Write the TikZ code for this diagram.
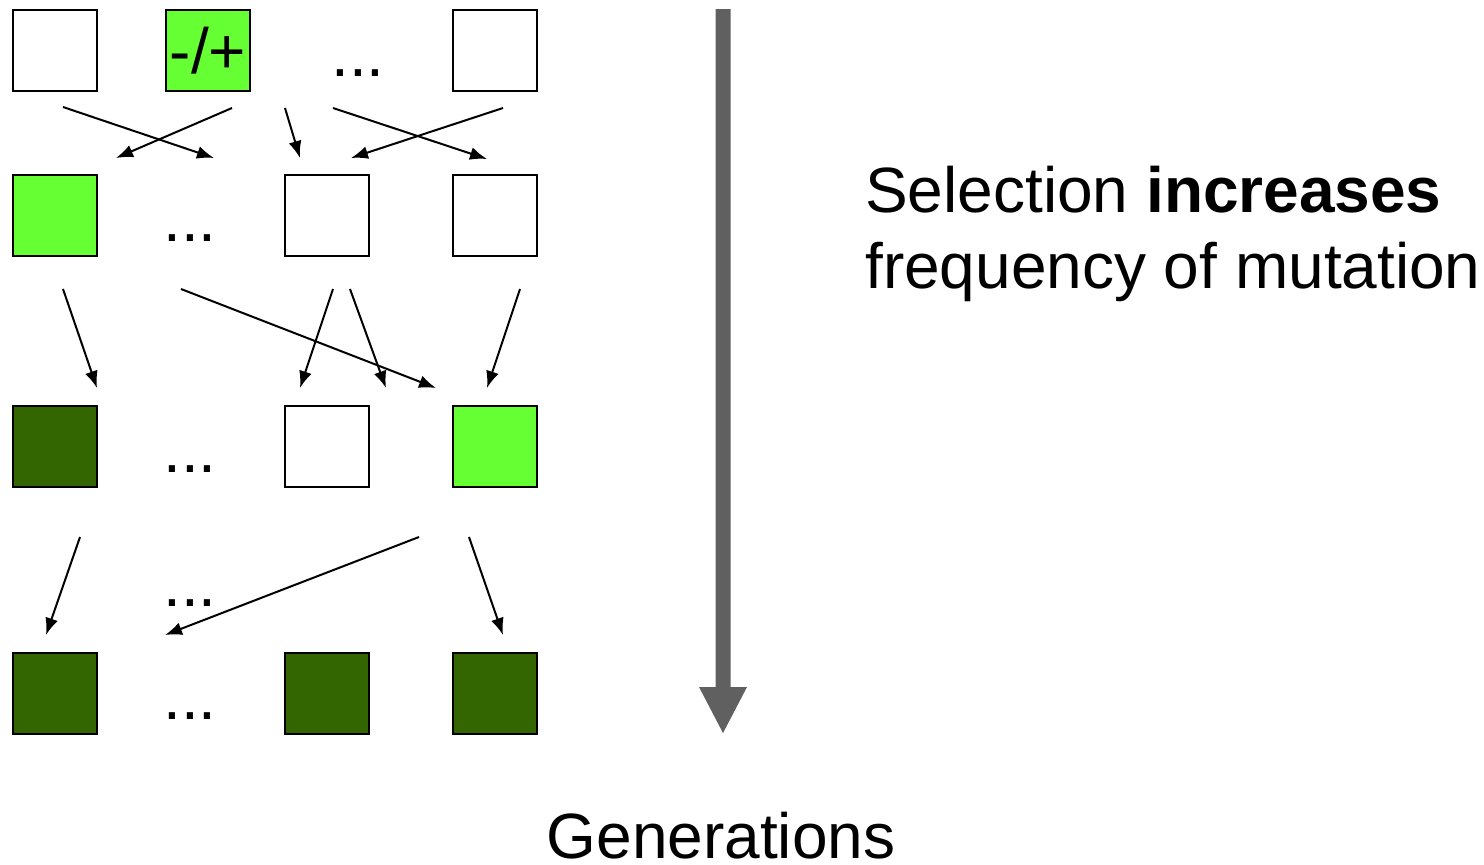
\documentclass[tikz,border=0pt]{standalone}
\usepackage{fontspec}
\setmainfont{Liberation Sans}
\usetikzlibrary{arrows.meta}
\definecolor{lgreen}{HTML}{66FF33}
\definecolor{dgreen}{HTML}{336600}
\definecolor{arrgray}{HTML}{606060}
\begin{document}
\begin{tikzpicture}[x=1pt,y=-1pt,
  cell/.style={draw=black,line width=2pt,minimum width=84pt,minimum height=81pt,inner sep=0pt,anchor=north west},
  white/.style={cell,fill=white},
  light/.style={cell,fill=lgreen},
  dark/.style={cell,fill=dgreen},
  dots/.style={inner sep=0pt,font=\fontsize{64}{70}\selectfont},
  conn/.style={-{Latex[length=17pt,width=13pt]},line width=2pt},
  big/.style={font=\fontsize{64}{76}\selectfont,inner sep=0pt}]
\useasboundingbox (0,0) rectangle (1484,865);
% row 1
\node[white] (a1) at (12,9) {};
\node[light,font=\fontsize{64}{66}\selectfont] (a2) at (165,9) {-/+};
\node[dots,anchor=base] (ad) at (358,76) {...};
\node[white] (a4) at (452,9) {};
% row 2
\node[light] (b1) at (12,174) {};
\node[dots,anchor=base] (bd) at (190,241) {...};
\node[white] (b3) at (284,174) {};
\node[white] (b4) at (452,174) {};
% row 3
\node[dark] (c1) at (12,405) {};
\node[dots,anchor=base] (cd) at (190,472) {...};
\node[white] (c3) at (284,405) {};
\node[light] (c4) at (452,405) {};
% between rows 3 and 4
\node[dots,anchor=base] (md) at (190,606) {...};
% row 4
\node[dark] (d1) at (12,652) {};
\node[dots,anchor=base] (dd) at (190,719) {...};
\node[dark] (d3) at (284,652) {};
\node[dark] (d4) at (452,652) {};
% connector end points
\coordinate (s1) at (63,107);  \coordinate (e1) at (214,158);
\coordinate (s2) at (232,108); \coordinate (e2) at (116,158);
\coordinate (s3) at (285,108); \coordinate (e3) at (300,158);
\coordinate (s4) at (333,108); \coordinate (e4) at (487,159);
\coordinate (s5) at (503,108); \coordinate (e5) at (351,158);
\coordinate (s6) at (63,289);  \coordinate (e6) at (97,388);
\coordinate (s7) at (181,289); \coordinate (e7) at (436,388);
\coordinate (s8) at (333,289); \coordinate (e8) at (300,388);
\coordinate (s9) at (350,289); \coordinate (e9) at (386,388);
\coordinate (s10) at (520,289); \coordinate (e10) at (487,388);
\coordinate (s11) at (80,537); \coordinate (e11) at (46,635);
\coordinate (s12) at (419,537); \coordinate (e12) at (165,635);
\coordinate (s13) at (469,537); \coordinate (e13) at (503,635);
\foreach \i in {1,...,13} { \draw[conn] (s\i) -- (e\i); }
% big arrow
\coordinate (gtop) at (723,9);
\coordinate (gtip) at (723,733);
\fill[arrgray] (715.5,9) -- (730.5,9) -- (730.5,687) -- (747,687) -- (gtip) -- (699,687) -- (715.5,687) -- cycle;
% texts
\node[big,anchor=base west] (t1) at (865,212) {Selection \textbf{increases}};
\node[big,anchor=base west] (t2) at (865,288) {frequency of mutation};
\node[big,anchor=base] (gen) at (721,858) {Generations};
\end{tikzpicture}
\end{document}
